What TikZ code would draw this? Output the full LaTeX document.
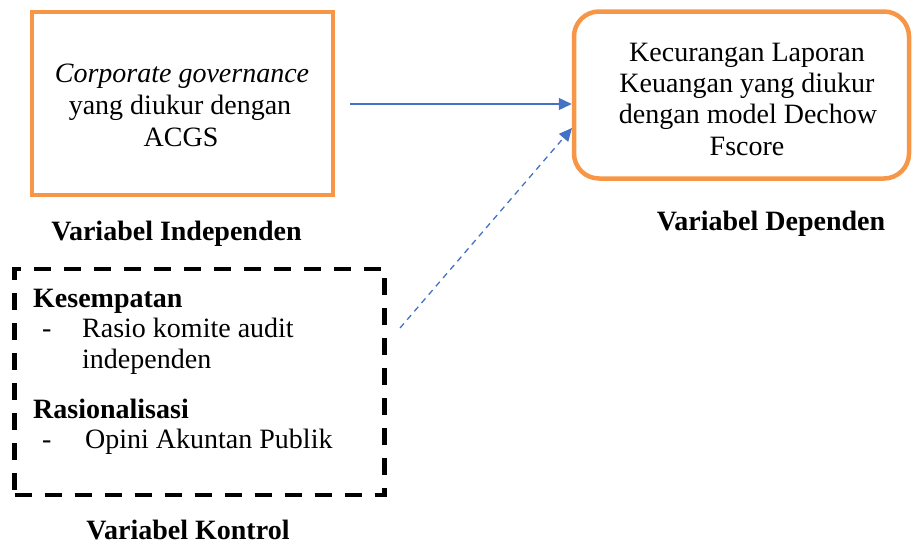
\documentclass[tikz,border=0pt]{standalone}
\usepackage{fontspec}
\setmainfont{Liberation Serif}
\usetikzlibrary{arrows.meta}
\definecolor{boxorange}{HTML}{F79646}
\definecolor{arrowblue}{HTML}{4472C4}
\tikzset{
  txt/.style={inner sep=0pt, anchor=base, font=\fontsize{28}{32}\selectfont},
  txtl/.style={txt, anchor=base west},
  boldtxt/.style={txt, font=\fontsize{28}{32}\selectfont\bfseries},
  boldtxtl/.style={boldtxt, anchor=base west},
  orangebox/.style={draw=boxorange, line width=4.5pt},
  dashbox/.style={draw=black, line width=4.5pt, dash pattern=on 17pt off 13pt},
  link/.style={draw=arrowblue, line width=1.3pt, -{Triangle[length=13pt,width=12pt]}},
}
\begin{document}
\begin{tikzpicture}[x=1pt, y=-1pt]
\useasboundingbox (0,0) rectangle (912,544);
% boxes
\node[orangebox, minimum width=301pt, minimum height=183pt, inner sep=0pt] (ind) at (182.5,103.5) {};
\node[orangebox, rounded corners=25pt, minimum width=335pt, minimum height=167pt, inner sep=0pt] (dep) at (741.5,95) {};
\node[dashbox, minimum width=370pt, minimum height=226pt, inner sep=0pt] (ctl) at (199.5,382) {};
% left box text
\node[txt] (i1) at (182,82) {\itshape Corporate governance};
\node[txt] (i2) at (180,114) {yang diukur dengan};
\node[txt] (i3) at (181,146) {ACGS};
% right box text
\node[txt] (d1) at (747,61) {Kecurangan Laporan};
\node[txt] (d2) at (747,92) {Keuangan yang diukur};
\node[txt] (d3) at (748,123) {dengan model Dechow};
\node[txt] (d4) at (747,155) {Fscore};
% control box text
\node[boldtxtl] (k1) at (33,307) {Kesempatan};
\node[txtl] (k2) at (42,337) {-};
\node[txtl] (k3) at (82,337) {Rasio komite audit};
\node[txtl] (k4) at (82,368) {independen};
\node[boldtxtl] (k5) at (33,418) {Rasionalisasi};
\node[txtl] (k6) at (42,448) {-};
\node[txtl] (k7) at (85,448) {Opini Akuntan Publik};
% labels
\node[boldtxt] (lab1) at (176.5,240) {Variabel Independen};
\node[boldtxt] (lab2) at (771,230) {Variabel Dependen};
\node[boldtxt] (lab3) at (188,539) {Variabel Kontrol};
% connectors
\coordinate (s1) at (350,104);
\coordinate (s2) at (400,328);
\coordinate (e2) at (572,128);
\draw[link] (s1) -- (s1 -| dep.west);
\draw[link, dash pattern=on 6pt off 5pt] (s2) -- (e2);
\end{tikzpicture}
\end{document}
